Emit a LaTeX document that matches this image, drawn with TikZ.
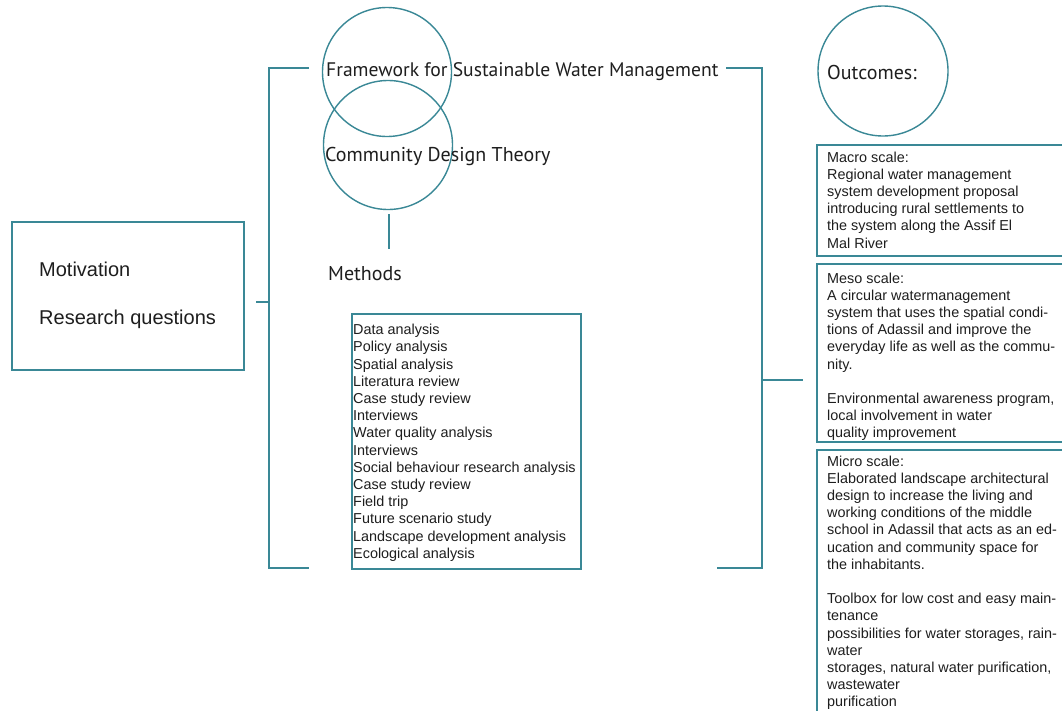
\documentclass[tikz,border=0pt]{standalone}
\usepackage{fontspec}
\setmainfont{Liberation Sans}
\newfontfamily\myr{PT Sans}
\definecolor{teal1}{HTML}{3A8896}
\definecolor{txt}{HTML}{1E1E1E}
\tikzset{
  ln/.style={draw=teal1, line width=1.5pt},
  bx/.style={draw=teal1, line width=1.5pt, anchor=north west, inner sep=0pt},
  body/.style={anchor=north west, inner sep=0pt, align=left, text=txt, font=\fontsize{14.4}{17.2}\selectfont},
  big/.style={anchor=base west, inner sep=0pt, text=txt, font=\myr\fontsize{20}{24}\selectfont},
  lft/.style={anchor=base west, inner sep=0pt, text=txt, font=\fontsize{20}{24}\selectfont},
  ring/.style={draw=teal1, line width=1.4pt, circle, inner sep=0pt}
}
\begin{document}
\begin{tikzpicture}[x=1pt,y=-1pt]
\useasboundingbox (0,0) rectangle (1062,710);
\clip (0,0) rectangle (1062,710);
\fill[white] (0,0) rectangle (1062,710);

% left box
\node[bx, minimum width=232pt, minimum height=148pt] (leftbox) at (11,221) {};
\node[lft] (motiv) at (39,276) {Motivation};
\node[lft] (rq) at (39,324) {Research questions};

% left bracket
\coordinate (lstub) at (256,302);
\coordinate (lmid) at (269,302);
\coordinate (ltop) at (269,68);
\coordinate (lbot) at (269,568);
\coordinate (ltopend) at (309,68);
\coordinate (lbotend) at (309,568);
\draw[ln] (ltopend) -- (ltop) -- (lbot) -- (lbotend);
\draw[ln] (lstub) -- (lmid);

% circles
\node[ring, minimum size=129pt] (c1) at (387,72) {};
\node[ring, minimum size=129pt] (c2) at (388,145) {};
\node[big, font=\myr\fontsize{19.6}{24}\selectfont] (frame) at (326,76) {Framework for Sustainable Water Management};
\node[big] (cdt) at (325,161) {Community Design Theory};
\coordinate (vtop) at (389,214);
\coordinate (vbot) at (389,249);
\draw[ln] (vtop) -- (vbot);
\node[big] (methods) at (328,280) {Methods};

% methods box
\node[bx, minimum width=229pt, minimum height=255pt] (mbox) at (351,313) {};
\node[body] (mtext) at (353,324) {Data analysis\\Policy analysis\\Spatial analysis\\Literatura review\\Case study review\\Interviews\\Water quality analysis\\Interviews\\Social behaviour research analysis\\Case study review\\Field trip\\Future scenario study\\Landscape development analysis\\Ecological analysis};

% right bracket
\coordinate (rtopend) at (726,68);
\coordinate (rtop) at (762,68);
\coordinate (rbot) at (762,568);
\coordinate (rbotend) at (717,568);
\coordinate (rmid) at (762,380);
\coordinate (rstub) at (803,380);
\draw[ln] (rtopend) -- (rtop) -- (rbot) -- (rbotend);
\draw[ln] (rmid) -- (rstub);

% outcomes
\node[ring, minimum size=130pt] (c3) at (883,71) {};
\node[big] (outc) at (827,79) {Outcomes:};

% right boxes
\node[bx, minimum width=260pt, minimum height=111pt] (macro) at (816,144) {};
\node[body] (macrot) at (827,151.5) {Macro scale:\\Regional water management\\system development proposal\\introducing rural settlements to\\the system along the Assif El\\Mal River};

\node[bx, minimum width=260pt, minimum height=178pt] (meso) at (816,263) {};
\node[body] (mesot) at (827,272.5) {Meso scale:\\A circular watermanagement\\system that uses the spatial condi-\\tions of Adassil and improve the\\everyday life as well as the commu-\\nity.\\[17.2pt]Environmental awareness program,\\local involvement in water\\quality improvement};

\node[bx, minimum width=260pt, minimum height=290pt] (micro) at (816,449) {};
\node[body] (microt) at (827,455.5) {Micro scale:\\Elaborated landscape architectural\\design to increase the living and\\working conditions of the middle\\school in Adassil that acts as an ed-\\ucation and community space for\\the inhabitants.\\[17.2pt]Toolbox for low cost and easy main-\\tenance\\possibilities for water storages, rain-\\water\\storages, natural water purification,\\wastewater\\purification};
\end{tikzpicture}
\end{document}
